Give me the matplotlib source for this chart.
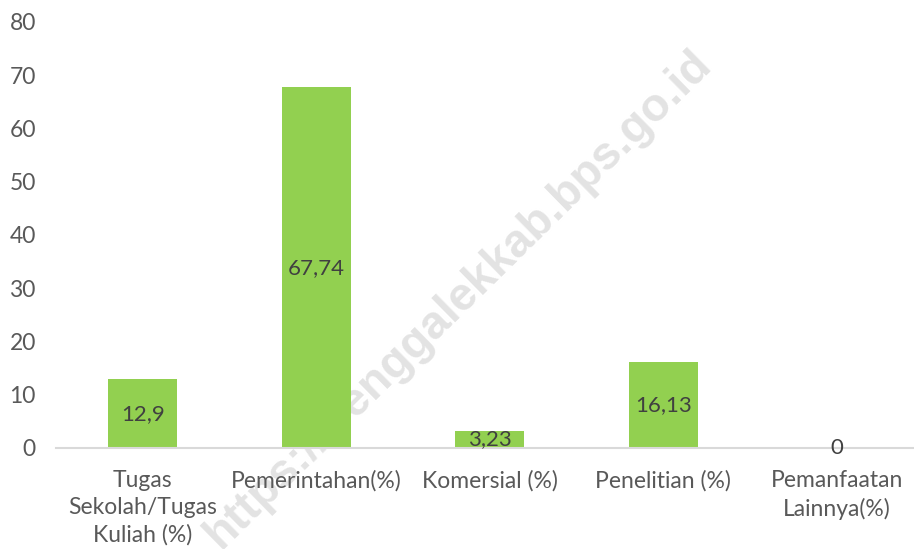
import matplotlib
matplotlib.use("Agg")
import matplotlib.pyplot as plt

categories = ["Tugas\nSekolah/Tugas\nKuliah (%)", "Pemerintahan(%)", "Komersial (%)",
              "Penelitian (%)", "Pemanfaatan\nLainnya(%)"]
values = [12.9, 67.74, 3.23, 16.13, 0]
value_labels = ["12,9", "67,74", "3,23", "16,13", "0"]
yticks = [0, 10, 20, 30, 40, 50, 60, 70, 80]

plt.rcParams['font.family'] = ['Lato', 'DejaVu Sans']

fig = plt.figure(figsize=(9.14, 5.49), dpi=100)
ax = fig.add_axes([0.0613, 0.184, 0.949, 0.776])

# watermark
fig.text(0.502, 0.454, "https://trenggalekkab.bps.go.id", rotation=44.5, ha='center', va='center',
         fontsize=33.5, fontweight='bold', color='#e3e3e3', family='Liberation Sans', zorder=0)

x = list(range(len(categories)))
ax.bar(x, values, width=0.40, color='#92D050', zorder=2)
for xi, v, lab in zip(x, values, value_labels):
    ax.text(xi, v / 2, lab, ha='center', va='center', fontsize=16, color='#404040', zorder=3)

ax.set_xlim(-0.5, len(categories) - 0.5)
ax.set_ylim(0, 80)
ax.set_yticks(yticks)
ax.set_yticklabels([str(t) for t in yticks])
ax.set_xticks(x)
ax.set_xticklabels(categories, linespacing=1.35)
ax.tick_params(axis='y', length=0, pad=14.5, labelsize=16.5, labelcolor='#595959')
ax.tick_params(axis='x', length=0, pad=16, labelsize=16.5, labelcolor='#595959')
for s in ['top', 'right', 'left']:
    ax.spines[s].set_visible(False)
ax.spines['bottom'].set_color('#d9d9d9')
ax.spines['bottom'].set_linewidth(1.5)
ax.patch.set_alpha(0)
ax.set_zorder(1)

fig.savefig("out.png", dpi=100)
